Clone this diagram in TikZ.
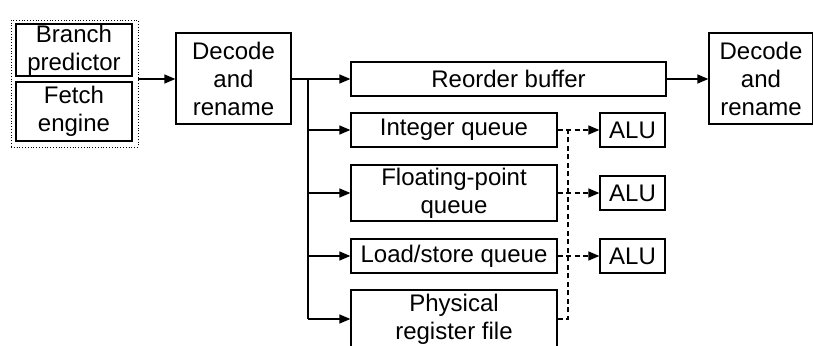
\documentclass[tikz,border=0pt]{standalone}
\usepackage{fontspec}
\setmainfont{Liberation Sans}
\usetikzlibrary{arrows.meta}
\begin{document}
\begin{tikzpicture}[x=1pt,y=-1pt,
  box/.style={draw,line width=1.3pt,inner sep=0pt,align=center,
    font=\fontsize{24}{28}\selectfont},
  conn/.style={line width=1.3pt,-{Triangle[length=11pt,width=9pt]}},
  link/.style={line width=1.3pt},
  dlink/.style={line width=1.3pt,dash pattern=on 5pt off 3.5pt}]
\useasboundingbox (0,0) rectangle (813,345);
\begin{scope}
\clip (0,0) rectangle (813,345);
% front end: predictor and fetch inside a dotted frame
\node[box,minimum width=116pt,minimum height=52pt] (bp) at (74,50) {Branch\\predictor};
\node[box,minimum width=116pt,minimum height=59pt] (fe) at (74,111.5) {Fetch\\engine};
\node[draw,dotted,line width=0.8pt,minimum width=127pt,minimum height=127pt,inner sep=0pt] (fr) at (74.5,83.5) {};
% decode stage
\node[box,minimum width=115pt,minimum height=91pt] (dec) at (233.5,78.5) {Decode\\and\\rename};
% back end structures
\node[box,minimum width=315pt,minimum height=34pt] (rob) at (508.5,79) {Reorder buffer};
\node[box,minimum width=104pt,minimum height=91pt] (dec2) at (761,78.5) {Decode\\and\\rename};
\node[box,minimum width=206pt,minimum height=34pt] (iq) at (454,130) {Integer queue};
\node[box,minimum width=206pt,minimum height=56pt] (fq) at (454,193) {Floating-point\\queue};
\node[box,minimum width=206pt,minimum height=34pt] (lq) at (454,256) {Load/store queue};
\node[box,minimum width=206pt,minimum height=58pt] (rf) at (454,319) {Physical\\register file};
\node[box,minimum width=65pt,minimum height=34pt] (alu1) at (632.5,130) {ALU};
\node[box,minimum width=65pt,minimum height=34pt] (alu2) at (632.5,193) {ALU};
\node[box,minimum width=65pt,minimum height=34pt] (alu3) at (632.5,256) {ALU};
% branch points
\coordinate (bx) at (308,79);
\coordinate (bend) at (308,319);
\coordinate (dx) at (568,130);
\coordinate (dend) at (568,319);
\end{scope}
% connectors
\draw[conn] (fr.east |- 0,79) -- (dec.west |- 0,79);
\draw[conn] (dec.east |- 0,79) -- (rob.west);
\draw[conn] (rob.east) -- (dec2.west |- rob.east);
\draw[link] (bx) -- (bend);
\draw[conn] (bx |- iq.west) -- (iq.west);
\draw[conn] (bx |- fq.west) -- (fq.west);
\draw[conn] (bx |- lq.west) -- (lq.west);
\draw[conn] (bend) -- (rf.west);
% operand paths to the ALUs
\draw[dlink] (rf.east) -- (dend) -- (dx);
\draw[dlink,-{Triangle[length=11pt,width=9pt]}] (iq.east) -- (alu1.west);
\draw[dlink,-{Triangle[length=11pt,width=9pt]}] (fq.east) -- (alu2.west);
\draw[dlink,-{Triangle[length=11pt,width=9pt]}] (lq.east) -- (alu3.west);
\end{tikzpicture}
\end{document}
